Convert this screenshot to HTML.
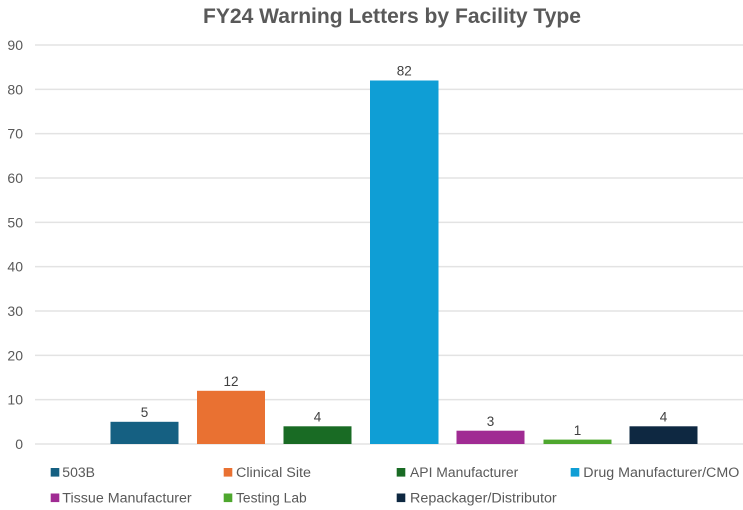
<!DOCTYPE html>
<html>
<head>
<meta charset="utf-8">
<style>
html,body{margin:0;padding:0;background:#fff;}
svg{display:block;}
text{font-family:"Liberation Sans",Arial,sans-serif;}
</style>
</head>
<body>
<svg width="743" height="510" viewBox="0 0 743 510" xmlns="http://www.w3.org/2000/svg">
<rect width="743" height="510" fill="#ffffff"/>
<text x="392" y="23" text-anchor="middle" font-size="21" font-weight="bold" fill="#595959" textLength="378" lengthAdjust="spacingAndGlyphs">FY24 Warning Letters by Facility Type</text>

<g stroke="#e3e3e3" stroke-width="1.5">
<line x1="35" x2="743" y1="45" y2="45"/>
<line x1="35" x2="743" y1="89.33" y2="89.33"/>
<line x1="35" x2="743" y1="133.67" y2="133.67"/>
<line x1="35" x2="743" y1="178" y2="178"/>
<line x1="35" x2="743" y1="222.33" y2="222.33"/>
<line x1="35" x2="743" y1="266.67" y2="266.67"/>
<line x1="35" x2="743" y1="311" y2="311"/>
<line x1="35" x2="743" y1="355.33" y2="355.33"/>
<line x1="35" x2="743" y1="399.67" y2="399.67"/>
<line x1="35" x2="743" y1="444" y2="444"/>
</g>

<g font-size="14" fill="#595959" text-anchor="end">
<text x="23" y="50">90</text>
<text x="23" y="94.3">80</text>
<text x="23" y="138.7">70</text>
<text x="23" y="183">60</text>
<text x="23" y="227.3">50</text>
<text x="23" y="271.7">40</text>
<text x="23" y="316">30</text>
<text x="23" y="360.3">20</text>
<text x="23" y="404.7">10</text>
<text x="23" y="449">0</text>
</g>

<rect x="110.5" y="421.8" width="68" height="22.2" fill="#156082"/>
<rect x="197" y="390.8" width="68" height="53.2" fill="#E97132"/>
<rect x="283.5" y="426.3" width="68" height="17.7" fill="#196B24"/>
<rect x="370" y="80.5" width="68.5" height="363.5" fill="#0F9ED5"/>
<rect x="456.5" y="430.7" width="68" height="13.3" fill="#A02B93"/>
<rect x="543.5" y="439.6" width="68" height="4.4" fill="#4EA72E"/>
<rect x="629.5" y="426.3" width="68" height="17.7" fill="#0E2841"/>

<g font-size="13.5" fill="#404040" text-anchor="middle">
<text x="144.5" y="417">5</text>
<text x="231" y="386">12</text>
<text x="317.5" y="421.5">4</text>
<text x="404.3" y="75.7">82</text>
<text x="490.5" y="426">3</text>
<text x="577.5" y="435">1</text>
<text x="663.5" y="421.5">4</text>
</g>

<g font-size="13.5" fill="#595959">
<rect x="50.7" y="468" width="8.6" height="8.6" fill="#156082"/>
<text x="62.3" y="477" textLength="32.7" lengthAdjust="spacingAndGlyphs">503B</text>
<rect x="223.7" y="468" width="8.6" height="8.6" fill="#E97132"/>
<text x="236" y="477" textLength="75" lengthAdjust="spacingAndGlyphs">Clinical Site</text>
<rect x="396.7" y="468" width="8.6" height="8.6" fill="#196B24"/>
<text x="410" y="477" textLength="108.3" lengthAdjust="spacingAndGlyphs">API Manufacturer</text>
<rect x="570.7" y="468" width="8.6" height="8.6" fill="#0F9ED5"/>
<text x="583.3" y="477" textLength="156" lengthAdjust="spacingAndGlyphs">Drug Manufacturer/CMO</text>

<rect x="50.7" y="493.5" width="8.6" height="8.6" fill="#A02B93"/>
<text x="62.3" y="502.5" textLength="129.4" lengthAdjust="spacingAndGlyphs">Tissue Manufacturer</text>
<rect x="223.7" y="493.5" width="8.6" height="8.6" fill="#4EA72E"/>
<text x="236" y="502.5" textLength="70.7" lengthAdjust="spacingAndGlyphs">Testing Lab</text>
<rect x="396.7" y="493.5" width="8.6" height="8.6" fill="#0E2841"/>
<text x="410" y="502.5" textLength="146.7" lengthAdjust="spacingAndGlyphs">Repackager/Distributor</text>
</g>
</svg>
</body>
</html>
